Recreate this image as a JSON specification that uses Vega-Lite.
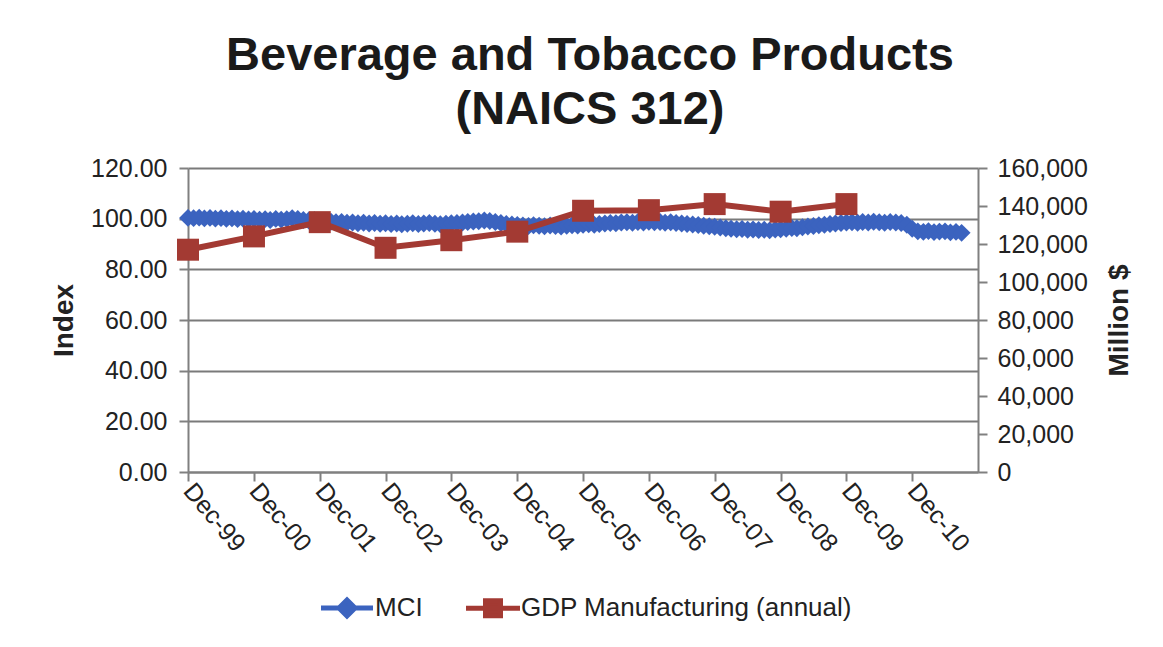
{
  "$schema": "https://vega.github.io/schema/vega-lite/v6.json",
  "width": 790,
  "height": 304,
  "autosize": {"type": "none"},
  "padding": {"left": 188, "top": 168, "right": 185, "bottom": 175},
  "background": "white",
  "title": {
    "text": ["Beverage and Tobacco Products", "(NAICS 312)"],
    "font": "Liberation Sans",
    "fontSize": 47,
    "fontWeight": "bold",
    "color": "#1a1a1a",
    "lineHeight": 54,
    "offset": 22,
    "anchor": "middle",
    "frame": "group",
    "dx": 7
  },
  "config": {
    "view": {"stroke": null},
    "axis": {
      "domainColor": "#808080",
      "domainWidth": 2,
      "tickColor": "#808080",
      "tickWidth": 2,
      "tickSize": 9,
      "gridColor": "#7a7a7a",
      "gridWidth": 1.8,
      "labelFont": "Liberation Sans",
      "labelFontSize": 25,
      "labelColor": "#222222",
      "titleFont": "Liberation Sans",
      "titleFontSize": 28,
      "titleFontWeight": "bold",
      "titleColor": "#222222",
      "labelOverlap": false,
      "labelFlush": false
    },
    "legend": {
      "orient": "none",
      "legendX": 146,
      "legendY": 427,
      "direction": "horizontal",
      "title": null,
      "symbolSize": 400,
      "symbolStrokeWidth": 5,
      "symbolOpacity": 1,
      "labelFont": "Liberation Sans",
      "labelFontSize": 26,
      "labelColor": "#222222",
      "labelOffset": 15,
      "labelLimit": 0,
      "columnPadding": 33,
      "padding": 0
    }
  },
  "datasets": {
    "mci": [
      {"date": "1999-12-01", "index": 100.3},
      {"date": "2000-01-01", "index": 100.2},
      {"date": "2000-02-01", "index": 100.4},
      {"date": "2000-03-01", "index": 100.1},
      {"date": "2000-04-01", "index": 100.3},
      {"date": "2000-05-01", "index": 100.0},
      {"date": "2000-06-01", "index": 100.2},
      {"date": "2000-07-01", "index": 99.9},
      {"date": "2000-08-01", "index": 100.1},
      {"date": "2000-09-01", "index": 99.8},
      {"date": "2000-10-01", "index": 100.0},
      {"date": "2000-11-01", "index": 99.7},
      {"date": "2000-12-01", "index": 99.9},
      {"date": "2001-01-01", "index": 99.6},
      {"date": "2001-02-01", "index": 99.8},
      {"date": "2001-03-01", "index": 99.5},
      {"date": "2001-04-01", "index": 99.9},
      {"date": "2001-05-01", "index": 99.6},
      {"date": "2001-06-01", "index": 99.8},
      {"date": "2001-07-01", "index": 100.2},
      {"date": "2001-08-01", "index": 99.9},
      {"date": "2001-09-01", "index": 99.5},
      {"date": "2001-10-01", "index": 99.3},
      {"date": "2001-11-01", "index": 99.4},
      {"date": "2001-12-01", "index": 99.1},
      {"date": "2002-01-01", "index": 99.0},
      {"date": "2002-02-01", "index": 98.8},
      {"date": "2002-03-01", "index": 98.6},
      {"date": "2002-04-01", "index": 98.7},
      {"date": "2002-05-01", "index": 98.4},
      {"date": "2002-06-01", "index": 98.5},
      {"date": "2002-07-01", "index": 98.2},
      {"date": "2002-08-01", "index": 98.4},
      {"date": "2002-09-01", "index": 98.1},
      {"date": "2002-10-01", "index": 98.3},
      {"date": "2002-11-01", "index": 98.0},
      {"date": "2002-12-01", "index": 98.2},
      {"date": "2003-01-01", "index": 97.9},
      {"date": "2003-02-01", "index": 98.1},
      {"date": "2003-03-01", "index": 97.8},
      {"date": "2003-04-01", "index": 98.0},
      {"date": "2003-05-01", "index": 98.2},
      {"date": "2003-06-01", "index": 97.9},
      {"date": "2003-07-01", "index": 98.1},
      {"date": "2003-08-01", "index": 98.3},
      {"date": "2003-09-01", "index": 98.0},
      {"date": "2003-10-01", "index": 97.8},
      {"date": "2003-11-01", "index": 98.0},
      {"date": "2003-12-01", "index": 98.2},
      {"date": "2004-01-01", "index": 98.3},
      {"date": "2004-02-01", "index": 98.5},
      {"date": "2004-03-01", "index": 98.7},
      {"date": "2004-04-01", "index": 98.9},
      {"date": "2004-05-01", "index": 99.0},
      {"date": "2004-06-01", "index": 99.3},
      {"date": "2004-07-01", "index": 99.1},
      {"date": "2004-08-01", "index": 98.7},
      {"date": "2004-09-01", "index": 98.3},
      {"date": "2004-10-01", "index": 97.9},
      {"date": "2004-11-01", "index": 97.7},
      {"date": "2004-12-01", "index": 97.5},
      {"date": "2005-01-01", "index": 97.3},
      {"date": "2005-02-01", "index": 97.1},
      {"date": "2005-03-01", "index": 97.4},
      {"date": "2005-04-01", "index": 97.2},
      {"date": "2005-05-01", "index": 97.0},
      {"date": "2005-06-01", "index": 97.3},
      {"date": "2005-07-01", "index": 97.1},
      {"date": "2005-08-01", "index": 96.9},
      {"date": "2005-09-01", "index": 97.2},
      {"date": "2005-10-01", "index": 97.4},
      {"date": "2005-11-01", "index": 97.3},
      {"date": "2005-12-01", "index": 97.6},
      {"date": "2006-01-01", "index": 97.8},
      {"date": "2006-02-01", "index": 97.6},
      {"date": "2006-03-01", "index": 97.9},
      {"date": "2006-04-01", "index": 98.1},
      {"date": "2006-05-01", "index": 98.3},
      {"date": "2006-06-01", "index": 98.2},
      {"date": "2006-07-01", "index": 98.5},
      {"date": "2006-08-01", "index": 98.6},
      {"date": "2006-09-01", "index": 98.4},
      {"date": "2006-10-01", "index": 98.7},
      {"date": "2006-11-01", "index": 98.5},
      {"date": "2006-12-01", "index": 98.8},
      {"date": "2007-01-01", "index": 98.6},
      {"date": "2007-02-01", "index": 98.7},
      {"date": "2007-03-01", "index": 98.4},
      {"date": "2007-04-01", "index": 98.6},
      {"date": "2007-05-01", "index": 98.3},
      {"date": "2007-06-01", "index": 98.1},
      {"date": "2007-07-01", "index": 97.9},
      {"date": "2007-08-01", "index": 97.7},
      {"date": "2007-09-01", "index": 97.5},
      {"date": "2007-10-01", "index": 97.2},
      {"date": "2007-11-01", "index": 97.0},
      {"date": "2007-12-01", "index": 96.8},
      {"date": "2008-01-01", "index": 96.5},
      {"date": "2008-02-01", "index": 96.2},
      {"date": "2008-03-01", "index": 96.0},
      {"date": "2008-04-01", "index": 95.8},
      {"date": "2008-05-01", "index": 95.9},
      {"date": "2008-06-01", "index": 95.6},
      {"date": "2008-07-01", "index": 95.7},
      {"date": "2008-08-01", "index": 95.5},
      {"date": "2008-09-01", "index": 95.6},
      {"date": "2008-10-01", "index": 95.4},
      {"date": "2008-11-01", "index": 95.7},
      {"date": "2008-12-01", "index": 95.8},
      {"date": "2009-01-01", "index": 96.0},
      {"date": "2009-02-01", "index": 96.3},
      {"date": "2009-03-01", "index": 96.2},
      {"date": "2009-04-01", "index": 96.6},
      {"date": "2009-05-01", "index": 96.9},
      {"date": "2009-06-01", "index": 97.1},
      {"date": "2009-07-01", "index": 97.4},
      {"date": "2009-08-01", "index": 97.6},
      {"date": "2009-09-01", "index": 97.9},
      {"date": "2009-10-01", "index": 98.1},
      {"date": "2009-11-01", "index": 98.3},
      {"date": "2009-12-01", "index": 98.5},
      {"date": "2010-01-01", "index": 98.6},
      {"date": "2010-02-01", "index": 98.4},
      {"date": "2010-03-01", "index": 98.7},
      {"date": "2010-04-01", "index": 98.5},
      {"date": "2010-05-01", "index": 98.8},
      {"date": "2010-06-01", "index": 98.6},
      {"date": "2010-07-01", "index": 98.4},
      {"date": "2010-08-01", "index": 98.7},
      {"date": "2010-09-01", "index": 98.5},
      {"date": "2010-10-01", "index": 98.3},
      {"date": "2010-11-01", "index": 97.6},
      {"date": "2010-12-01", "index": 96.0},
      {"date": "2011-01-01", "index": 95.0},
      {"date": "2011-02-01", "index": 94.8},
      {"date": "2011-03-01", "index": 95.1},
      {"date": "2011-04-01", "index": 94.7},
      {"date": "2011-05-01", "index": 94.9},
      {"date": "2011-06-01", "index": 95.0},
      {"date": "2011-07-01", "index": 94.6},
      {"date": "2011-08-01", "index": 94.8},
      {"date": "2011-09-01", "index": 94.4}
    ],
    "gdp": [
      {"date": "1999-12-01", "gdp": 117000},
      {"date": "2000-12-01", "gdp": 124000},
      {"date": "2001-12-01", "gdp": 131500},
      {"date": "2002-12-01", "gdp": 118000},
      {"date": "2003-12-01", "gdp": 122000},
      {"date": "2004-12-01", "gdp": 126500},
      {"date": "2005-12-01", "gdp": 137500},
      {"date": "2006-12-01", "gdp": 137800},
      {"date": "2007-12-01", "gdp": 141000},
      {"date": "2008-12-01", "gdp": 137000},
      {"date": "2009-12-01", "gdp": 141000}
    ]
  },
  "encoding": {
    "x": {
      "field": "date",
      "type": "temporal",
      "scale": {
        "type": "utc",
        "domain": [
          {"year": 1999, "month": 12, "date": 1, "utc": true},
          {"year": 2011, "month": 12, "date": 1, "utc": true}
        ]
      },
      "axis": {
        "title": null,
        "grid": false,
        "labelExpr": "utcFormat(datum.value, '%b-%y')",
        "labelAngle": 50,
        "labelAlign": "left",
        "labelBaseline": "middle",
        "labelPadding": 5,
        "values": [
          {"year": 1999, "month": 12, "date": 1, "utc": true},
          {"year": 2000, "month": 12, "date": 1, "utc": true},
          {"year": 2001, "month": 12, "date": 1, "utc": true},
          {"year": 2002, "month": 12, "date": 1, "utc": true},
          {"year": 2003, "month": 12, "date": 1, "utc": true},
          {"year": 2004, "month": 12, "date": 1, "utc": true},
          {"year": 2005, "month": 12, "date": 1, "utc": true},
          {"year": 2006, "month": 12, "date": 1, "utc": true},
          {"year": 2007, "month": 12, "date": 1, "utc": true},
          {"year": 2008, "month": 12, "date": 1, "utc": true},
          {"year": 2009, "month": 12, "date": 1, "utc": true},
          {"year": 2010, "month": 12, "date": 1, "utc": true}
        ]
      }
    }
  },
  "layer": [
    {
      "data": {"name": "mci"},
      "encoding": {
        "y": {
          "field": "index",
          "type": "quantitative",
          "scale": {"domain": [0, 120], "nice": false, "zero": true},
          "axis": {
            "orient": "left",
            "title": "Index",
            "values": [0, 20, 40, 60, 80, 100, 120],
            "format": ".2f",
            "grid": true,
            "labelPadding": 12,
            "titlePadding": 12
          }
        }
      },
      "layer": [
        {"mark": {"type": "line", "color": "#3B63BF", "strokeWidth": 3}},
        {"mark": {"type": "point", "shape": "diamond", "filled": true, "color": "#3B63BF", "size": 320, "opacity": 1}}
      ]
    },
    {
      "data": {"name": "gdp"},
      "encoding": {
        "y": {
          "field": "gdp",
          "type": "quantitative",
          "scale": {"domain": [0, 160000], "nice": false},
          "axis": {
            "orient": "right",
            "title": "Million $",
            "values": [0, 20000, 40000, 60000, 80000, 100000, 120000, 140000, 160000],
            "labelExpr": "format(datum.value, ',.0f')",
            "grid": false,
            "labelPadding": 10,
            "titleAngle": -90,
            "titleBaseline": "top",
            "titlePadding": 18
          }
        }
      },
      "layer": [
        {"mark": {"type": "line", "color": "#A33A33", "strokeWidth": 6}},
        {"mark": {"type": "point", "shape": "square", "filled": true, "color": "#A33A33", "size": 484, "opacity": 1}}
      ]
    },
    {
      "data": {"values": []},
      "mark": {"type": "point", "filled": true, "strokeWidth": 5, "opacity": 1},
      "encoding": {
        "color": {
          "field": "series",
          "type": "nominal",
          "title": null,
          "scale": {"domain": ["MCI", "GDP Manufacturing (annual)"], "range": ["#3B63BF", "#A33A33"]}
        },
        "stroke": {
          "field": "series",
          "type": "nominal",
          "title": null,
          "scale": {"domain": ["MCI", "GDP Manufacturing (annual)"], "range": ["#3B63BF", "#A33A33"]}
        },
        "shape": {
          "field": "series",
          "type": "nominal",
          "title": null,
          "scale": {
            "domain": ["MCI", "GDP Manufacturing (annual)"],
            "range": ["M-2.6,0L2.6,0M0,-0.8L0.8,0L0,0.8L-0.8,0Z", "M-2.7,0L2.7,0M-0.75,-0.75L0.75,-0.75L0.75,0.75L-0.75,0.75Z"]
          }
        }
      }
    }
  ],
  "resolve": {"scale": {"y": "independent"}}
}
